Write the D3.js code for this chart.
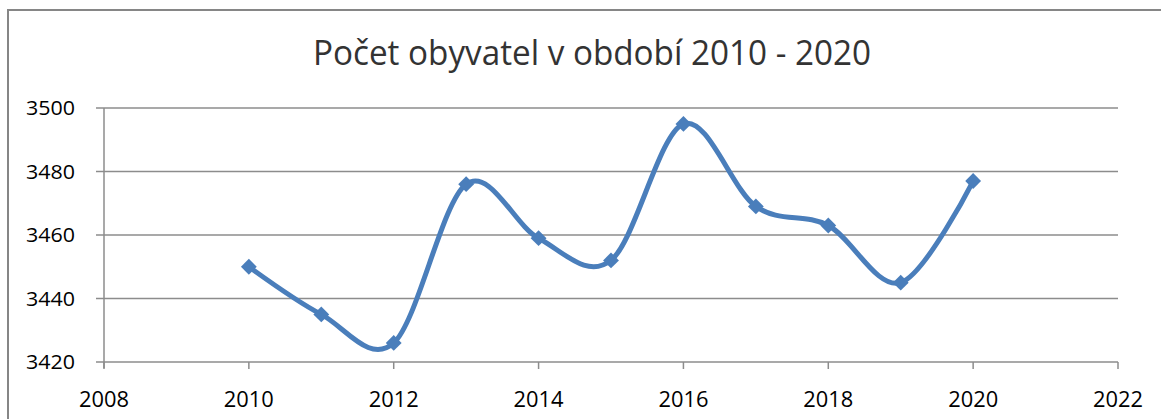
<!DOCTYPE html>
<html lang="cs">
<head>
  <meta charset="UTF-8">
  <title>Počet obyvatel</title>
  <script src="https://cdn.jsdelivr.net/npm/d3@7"></script>
  <style>
    body { margin: 0; background: #fff; overflow: hidden; }
    text { font-family: "Open Sans", sans-serif; fill: #000; }
    .grid line { stroke: #8c8c8c; stroke-width: 1.5; }
  </style>
</head>
<body>
  <div id="chart"></div>
  <script>
    const years = [2010, 2011, 2012, 2013, 2014, 2015, 2016, 2017, 2018, 2019, 2020];
    const population = [3450, 3435, 3426, 3476, 3459, 3452, 3495, 3469, 3463, 3445, 3477];
    const xTicks = [2008, 2010, 2012, 2014, 2016, 2018, 2020, 2022];
    const yTicks = [3420, 3440, 3460, 3480, 3500];
    const title = 'Počet obyvatel v období 2010 - 2020';

    const width = 1161, height = 419;
    const plotLeft = 104, plotRight = 1118, plotTop = 108, plotBottom = 362;

    const svg = d3.select('#chart').append('svg')
      .attr('width', width)
      .attr('height', height);

    // chart frame (right and bottom edges fall outside the picture)
    svg.append('rect')
      .attr('x', 8).attr('y', 10)
      .attr('width', 1170).attr('height', 430)
      .attr('fill', 'none')
      .attr('stroke', '#868686')
      .attr('stroke-width', 2);

    const x = d3.scaleLinear().domain([2008, 2022]).range([plotLeft, plotRight]);
    const y = d3.scaleLinear().domain([3420, 3500]).range([plotBottom, plotTop]);

    // horizontal gridlines
    svg.append('g').attr('class', 'grid')
      .selectAll('line')
      .data(yTicks)
      .join('line')
      .attr('x1', plotLeft - 8).attr('x2', plotRight)
      .attr('y1', d => y(d)).attr('y2', d => y(d));

    // axes lines
    svg.append('line')
      .attr('x1', plotLeft).attr('x2', plotLeft)
      .attr('y1', plotTop).attr('y2', plotBottom + 6)
      .attr('stroke', '#8c8c8c').attr('stroke-width', 1.5);

    svg.append('g')
      .selectAll('line')
      .data(xTicks)
      .join('line')
      .attr('x1', d => x(d)).attr('x2', d => x(d))
      .attr('y1', plotBottom).attr('y2', plotBottom + 7)
      .attr('stroke', '#8c8c8c').attr('stroke-width', 1.5);

    // y labels
    svg.append('g')
      .selectAll('text')
      .data(yTicks)
      .join('text')
      .attr('x', 75)
      .attr('y', d => y(d) + 7)
      .attr('text-anchor', 'end')
      .attr('font-size', 20)
      .attr('textLength', 49)
      .attr('lengthAdjust', 'spacingAndGlyphs')
      .text(d => d);

    // x labels
    svg.append('g')
      .selectAll('text')
      .data(xTicks)
      .join('text')
      .attr('x', d => x(d))
      .attr('y', 407)
      .attr('text-anchor', 'middle')
      .attr('font-size', 21)
      .attr('textLength', 50)
      .attr('lengthAdjust', 'spacingAndGlyphs')
      .text(d => d);

    // title
    svg.append('text')
      .attr('x', 592)
      .attr('y', 65)
      .attr('text-anchor', 'middle')
      .attr('font-size', 35)
      .attr('textLength', 558)
      .attr('lengthAdjust', 'spacingAndGlyphs')
      .style('fill', '#333333')
      .text(title);

    const data = years.map((yr, i) => ({ yr, v: population[i] }));

    const line = d3.line()
      .x(d => x(d.yr))
      .y(d => y(d.v))
      .curve(d3.curveCardinal.tension(0));

    svg.append('path')
      .datum(data)
      .attr('fill', 'none')
      .attr('stroke', '#4a7ebb')
      .attr('stroke-width', 5)
      .attr('stroke-linejoin', 'round')
      .attr('d', line);

    svg.append('g')
      .selectAll('path')
      .data(data)
      .join('path')
      .attr('transform', d => `translate(${x(d.yr)},${y(d.v)})`)
      .attr('d', d3.symbol(d3.symbolDiamond2, 160)())
      .attr('fill', '#4a7ebb');
  </script>
</body>
</html>
